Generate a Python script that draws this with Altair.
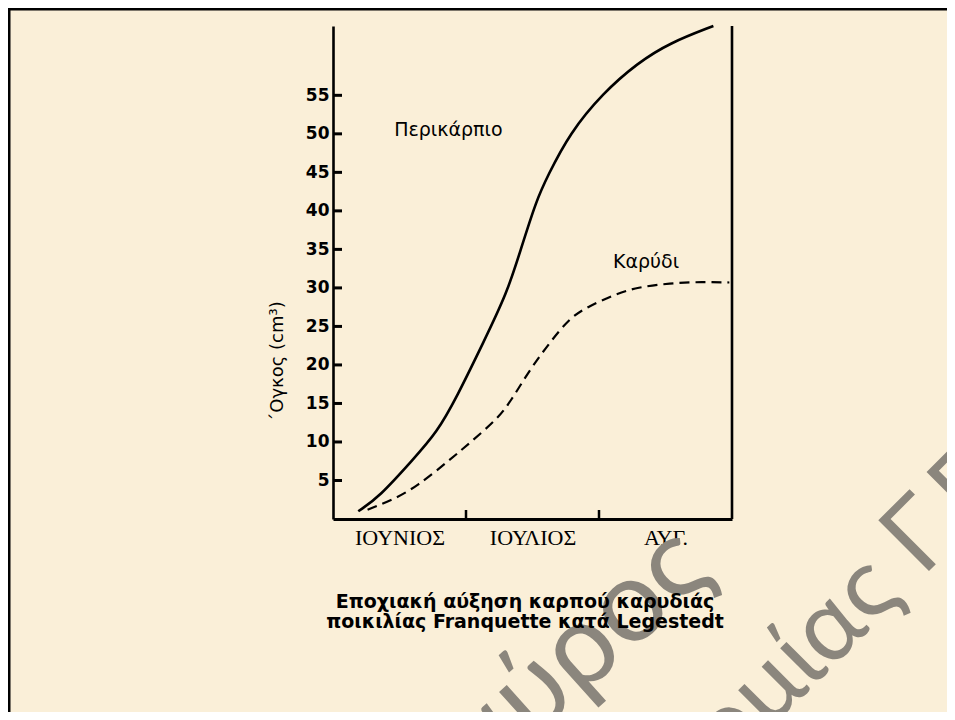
import json
import altair as alt
import pandas as pd

# ---------------- data ----------------
MONTHS = ["ΙΟΥΝΙΟΣ", "ΙΟΥΛΙΟΣ", "ΑΥΓ."]
MONTH_CENTERS = [0.5, 1.5, 2.5]
MONTH_BOUNDS = [1, 2]
Y_TICKS = [5, 10, 15, 20, 25, 30, 35, 40, 45, 50, 55]

PERI_X = [0.19, 0.35, 0.60, 0.78, 0.93, 1.13, 1.31, 1.41, 1.53, 1.61, 1.78, 2.03, 2.29, 2.53, 2.86]
PERI_Y = [1.0, 2.9, 7.7, 11.2, 15.8, 22.9, 29.4, 34.9, 41.4, 44.4, 50.1, 55.3, 59.2, 61.8, 64.0]

KARY_X = [0.26, 0.45, 0.63, 0.88, 1.03, 1.23, 1.33, 1.48, 1.63, 1.78, 1.91, 2.11, 2.29, 2.53, 2.78, 2.98]
KARY_Y = [1.2, 2.5, 4.2, 7.7, 9.9, 12.9, 15.1, 19.4, 22.9, 26.1, 27.5, 29.1, 30.1, 30.6, 30.8, 30.7]

SERIES_NAMES = ["Περικάρπιο", "Καρύδι"]
LABEL_X = [0.46, 2.105]
LABEL_Y = [50.5, 33.4]

Y_TITLE = "΄Ογκος (cm³)"
CAPTION = ["Εποχιακή αύξηση καρπού καρυδιάς", "ποικιλίας Franquette κατά Legestedt"]
WATERMARK = ["Σταύρος", "Δενδροκομίας Γ.Π.Α."]

# ---------------- styling ----------------
BG = "#FAEFD8"
WM_COLOR = "#8B867D"
W, H = 399, 493

xs = alt.Scale(domain=[0, 3], nice=False, zero=False)
ys = alt.Scale(domain=[0, 64], nice=False, zero=True)

x_axis = alt.Axis(
    values=MONTH_CENTERS,
    labelExpr=f"{json.dumps(MONTHS, ensure_ascii=False)}[floor(datum.value)]",
    ticks=False, grid=False, domainColor="black", domainWidth=3,
    labelFont="Liberation Serif", labelFontSize=22, labelColor="black",
    labelPadding=8, title=None,
)
y_axis = alt.Axis(
    values=Y_TICKS, ticks=False, grid=False, domainColor="black", domainWidth=2.6,
    labelFont="DejaVu Sans", labelFontWeight="bold", labelFontSize=17,
    labelColor="black", labelPadding=4,
    title=Y_TITLE, titleFont="DejaVu Sans", titleFontWeight="normal",
    titleFontSize=18, titleColor="black", titleAngle=270,
    titleX=-56, titleY=335, titleAlign="center", titleBaseline="middle",
)

peri = pd.DataFrame({"x": PERI_X, "y": PERI_Y})
kary = pd.DataFrame({"x": KARY_X, "y": KARY_Y})
labels = pd.DataFrame({"x": LABEL_X, "y": LABEL_Y, "t": SERIES_NAMES})
yt = pd.DataFrame({"v": Y_TICKS})
xt = pd.DataFrame({"v": MONTH_BOUNDS})
one = pd.DataFrame({"a": [0]})

solid = alt.Chart(peri).mark_line(color="black", strokeWidth=2.6, interpolate="basis").encode(
    x=alt.X("x:Q", scale=xs, axis=x_axis), y=alt.Y("y:Q", scale=ys, axis=y_axis)
)
dashed = alt.Chart(kary).mark_line(color="black", strokeWidth=2.2, strokeDash=[10, 6],
                                   interpolate="basis").encode(
    x=alt.X("x:Q", scale=xs), y=alt.Y("y:Q", scale=ys)
)
names = alt.Chart(labels).mark_text(font="DejaVu Sans", fontSize=19, align="left",
                                    baseline="middle", color="black").encode(
    x=alt.X("x:Q", scale=xs), y=alt.Y("y:Q", scale=ys), text="t:N"
)
yticks = alt.Chart(yt).mark_rule(color="black", strokeWidth=3).encode(
    y=alt.Y("v:Q", scale=ys), x=alt.value(0), x2=alt.value(9)
)
xticks = alt.Chart(xt).mark_rule(color="black", strokeWidth=2.5).encode(
    x=alt.X("v:Q", scale=xs), y=alt.value(H), y2=alt.value(H - 9)
)
right_line = alt.Chart(pd.DataFrame({"v": [3]})).mark_rule(color="black", strokeWidth=2.6).encode(
    x=alt.X("v:Q", scale=xs), y=alt.value(0), y2=alt.value(H)
)
border_left = alt.Chart(one).mark_rule(color="black", strokeWidth=3).encode(
    x=alt.value(-324), y=alt.value(-18), y2=alt.value(700)
)
border_top = alt.Chart(one).mark_rule(color="black", strokeWidth=3).encode(
    y=alt.value(-17), x=alt.value(-325), x2=alt.value(620)
)
wm1 = alt.Chart(one).mark_text(font="Lato", fontWeight="normal", fontSize=115, angle=318,
                               align="right", baseline="alphabetic", color=WM_COLOR).encode(
    x=alt.value(383), y=alt.value(549), text=alt.value(WATERMARK[0])
)
wm2 = alt.Chart(one).mark_text(font="Lato", fontWeight="normal", fontSize=100, angle=315,
                               align="right", baseline="alphabetic", color=WM_COLOR).encode(
    x=alt.value(773), y=alt.value(368), text=alt.value(WATERMARK[1])
)
caption = alt.Chart(one).mark_text(font="DejaVu Sans", fontWeight="bold", fontSize=19,
                                   lineHeight=20, align="center", baseline="alphabetic",
                                   color="black").encode(
    x=alt.value(192), y=alt.value(582), text=alt.value(CAPTION)
)

chart = alt.layer(
    wm1, wm2, border_left, border_top, right_line, yticks, xticks,
    dashed, solid, names, caption
).properties(
    width=W, height=H,
    padding={"left": 325, "top": 18, "right": 215, "bottom": 193},
    autosize=alt.AutoSizeParams(type="none"),
    background=BG,
).configure_view(stroke=None)

chart.save("out.html", embed_options={"renderer": "svg", "actions": False})
